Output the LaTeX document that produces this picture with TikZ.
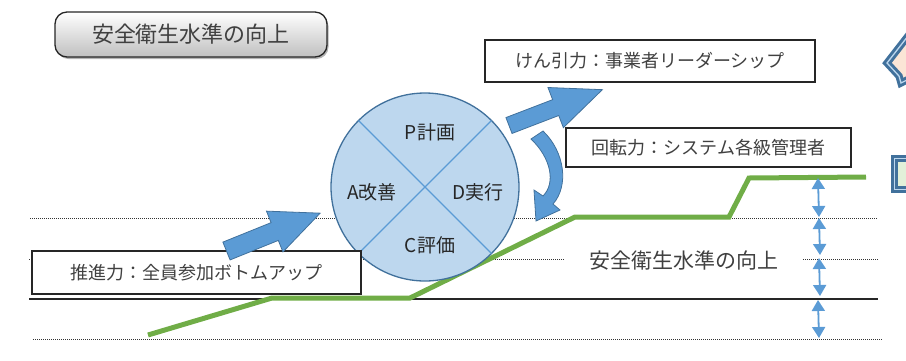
\documentclass[tikz,border=0pt]{standalone}
\usepackage{fontspec}
\setmainfont{Noto Sans CJK JP}
\usetikzlibrary{arrows.meta,shadows}
\definecolor{bfill}{HTML}{5B9BD5}
\definecolor{bdark}{HTML}{41719C}
\definecolor{cfill}{HTML}{BDD7EE}
\definecolor{grn}{HTML}{70AD47}
\definecolor{txt}{HTML}{404040}
\definecolor{peach}{HTML}{FBE5D6}
\definecolor{lgreen}{HTML}{E2F0D9}
\begin{document}
\begin{tikzpicture}[x=1pt,y=-1pt,
  labelbox/.style={draw=black!85, line width=1.6pt, fill=white, text=txt,
    font=\fontsize{18}{20}\selectfont, inner sep=0pt},
  dotline/.style={dash pattern=on 1pt off 1pt, line width=1pt, black!80},
  blockarrow/.style={fill=bfill, draw=bdark, line width=0.8pt, line join=miter},
  levelarrow/.style={bfill, line width=1.8pt,
    {Triangle[width=13pt,length=11pt]}-{Triangle[width=13pt,length=11pt]}},
  pdca/.style={text=black!85, font=\fontsize{19}{21}\selectfont, inner sep=0pt},
  greenline/.style={grn, line width=5pt, line join=miter},
  edgeshape/.style={draw=bdark, double=cfill, double distance=1.3pt, line width=3pt}
]
\useasboundingbox (0,0) rectangle (906,360);
\begin{scope}
\clip (0,0) rectangle (906,360);

% level lines
\coordinate (d1a) at (30,218);  \coordinate (d1b) at (878,218);
\coordinate (d2a) at (29,259);  \coordinate (d2b) at (878,259);
\coordinate (s1a) at (29,299);  \coordinate (s1b) at (878,299);
\coordinate (d3a) at (33,339);  \coordinate (d3b) at (883,339);
\draw[dotline] (d1a) -- (d1b);
\draw[dotline] (d2a) -- (d2b);
\draw[black!85, line width=1.2pt] (s1a) -- (s1b);
\draw[dotline] (d3a) -- (d3b);

% green level curve
\coordinate (g1) at (148,335);
\coordinate (g2) at (272,298);
\coordinate (g3) at (410,298);
\coordinate (g4) at (575,217);
\coordinate (g5) at (729,217);
\coordinate (g6) at (749,178);
\coordinate (g7) at (866,177);
\draw[greenline] (g1) -- (g2) -- (g3) -- (g4) -- (g5) -- (g6) -- (g7);

% PDCA circle
\node[circle, minimum size=188pt, fill=cfill, draw=bdark, line width=1.3pt,
  outer sep=0pt, inner sep=0pt] (cyc) at (425,187) {};
\draw[bfill, line width=1.1pt] (cyc.north west) -- (cyc.south east);
\draw[bfill, line width=1.1pt] (cyc.north east) -- (cyc.south west);
\node[pdca] (plan) at (430,132) {P計画};
\node[pdca] (act) at (372,192) {A改善};
\node[pdca] (do) at (478,192) {D実行};
\node[pdca] (chk) at (430,245) {C評価};

% label boxes
\node[labelbox, minimum width=330pt, minimum height=42pt] (pull) at (650,61)
  {けん引力：事業者リーダーシップ};
\node[labelbox, minimum width=285pt, minimum height=39pt] (rot) at (708.5,147.5)
  {回転力：システム各級管理者};
\node[labelbox, minimum width=329pt, minimum height=43pt] (push) at (196.5,272.5)
  {推進力：全員参加ボトムアップ};

% title
\node[draw=black!85, line width=1.3pt, rounded corners=12pt,
  top color=white, bottom color=black!25, minimum width=272pt, minimum height=45pt,
  drop shadow={shadow xshift=1.5pt, shadow yshift=-2pt, opacity=0.6},
  text=txt, font=\fontsize{22}{24}\selectfont, inner sep=0pt] (title) at (191,34.5)
  {安全衛生水準の向上};

% right label
\node[fill=white, inner xsep=24pt, inner ysep=2pt, text=txt,
  font=\fontsize{21}{23}\selectfont] (lvl) at (683.5,260) {安全衛生水準の向上};

% block arrows
\begin{scope}[shift={(226.5,251)}, rotate=22]
\filldraw[blockarrow] (0,-9.6) -- (52,-9.6) -- (52,-22) -- (101,0) -- (52,22) -- (52,9.6) -- (0,9.6) -- cycle;
\end{scope}
\begin{scope}[shift={(509,125.5)}, rotate=21]
\filldraw[blockarrow] (0,-8.5) -- (50,-8.5) -- (50,-21.5) -- (100,0) -- (50,21.5) -- (50,8.5) -- (0,8.5) -- cycle;
\end{scope}
% curved arrow
\filldraw[blockarrow] (531,139) -- (543,131)
  .. controls (565,152) and (569,186) .. (553,204)
  -- (560,210) -- (536,221) -- (534,190) -- (543,196)
  .. controls (556,183) and (551,158) .. (531,139) -- cycle;

% level arrows
\coordinate (a1t) at (818,178); \coordinate (a1b) at (819,217);
\coordinate (a2t) at (819,218); \coordinate (a2b) at (820,255);
\coordinate (a3t) at (819,258); \coordinate (a3b) at (820,296);
\coordinate (a4t) at (818,300); \coordinate (a4b) at (819,338);
\draw[levelarrow] (a1t) -- (a1b);
\draw[levelarrow] (a2t) -- (a2b);
\draw[levelarrow] (a3t) -- (a3b);
\draw[levelarrow] (a4t) -- (a4b);

% partial shapes at right edge
\filldraw[edgeshape, fill=peach] (915,27) -- (887,63) -- (899,76) -- (901,83) -- (915,76) -- cycle;
\filldraw[edgeshape, fill=lgreen] (894.5,158.5) rectangle (920,189.5);
\end{scope}
\end{tikzpicture}
\end{document}
